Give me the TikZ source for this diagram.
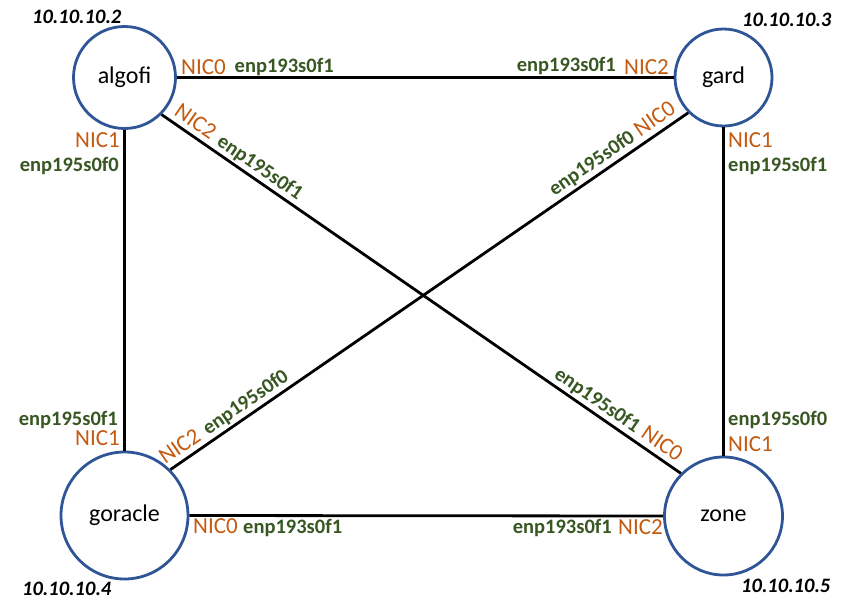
\documentclass[tikz,border=0pt]{standalone}
\usepackage{fontspec}
\setmainfont{Carlito}
\definecolor{hostblue}{HTML}{2F5597}
\definecolor{nicorange}{HTML}{C55A11}
\definecolor{ifgreen}{HTML}{385723}
\tikzset{
  host/.style={circle, draw=hostblue, line width=2.8pt, fill=white, inner sep=0pt,
               font=\fontsize{24}{28}\selectfont},
  link/.style={line width=2.8pt, draw=black},
  nic/.style={text=nicorange, inner sep=0pt, font=\fontsize{23}{27}\selectfont},
  ifname/.style={text=ifgreen, inner sep=0pt, font=\bfseries\fontsize{20.5}{24}\selectfont},
  ipaddr/.style={text=black, inner sep=0pt, font=\bfseries\itshape\fontsize{20.5}{24}\selectfont}
}
\begin{document}
\begin{tikzpicture}[x=1pt,y=-1pt]
\useasboundingbox[fill=white] (0,0) rectangle (850,605);

% hosts
\node[host, minimum size=102pt] (algofi)  at (124.5,77.5) {algofi};
\node[host, minimum size=97pt]  (gard)    at (723.5,77.5) {gard};
\node[host, minimum size=127pt] (goracle) at (124.5,515.5) {goracle};
\node[host, minimum size=118pt] (zone)    at (723.5,516)  {zone};

% links
\draw[link] (algofi.east) -- (gard.west);
\draw[link] (goracle.east) -- (zone.west);
\draw[link] (algofi.south) -- (goracle.north);
\draw[link] (gard.south) -- (zone.north);
\draw[link] (algofi.south east) -- (zone.north west);
\draw[link] (gard.south west) -- (goracle.north east);

% addresses
\node[ipaddr, anchor=base west] (ip2) at (32,23.3)  {10.10.10.2};
\node[ipaddr, anchor=base west] (ip3) at (742,26)   {10.10.10.3};
\node[ipaddr, anchor=base west] (ip4) at (22,595.7) {10.10.10.4};
\node[ipaddr, anchor=base west] (ip5) at (741,592.3){10.10.10.5};

% algofi -- gard
\node[nic, anchor=base west]    (a0) at (181,74)    {NIC0};
\node[ifname, anchor=base west] (a0i) at (234.5,72.7) {enp193s0f1};
\node[ifname, anchor=base east] (g2i) at (616,71.7) {enp193s0f1};
\node[nic, anchor=base east]    (g2) at (669,74)    {NIC2};

% algofi -- goracle
\node[nic, anchor=base east]    (a1) at (120,147)   {NIC1};
\node[ifname, anchor=base east] (a1i) at (119,171)  {enp195s0f0};
\node[ifname, anchor=base east] (o1i) at (118,425)  {enp195s0f1};
\node[nic, anchor=base east]    (o1) at (120,445)   {NIC1};

% gard -- zone
\node[nic, anchor=base west]    (g1) at (728,147)   {NIC1};
\node[ifname, anchor=base west] (g1i) at (728,171)  {enp195s0f1};
\node[ifname, anchor=base west] (z1i) at (728,425)  {enp195s0f0};
\node[nic, anchor=base west]    (z1) at (728,451.7) {NIC1};

% goracle -- zone
\node[nic, anchor=base west]    (o0) at (193,533)   {NIC0};
\node[ifname, anchor=base west] (o0i) at (243,533)  {enp193s0f1};
\node[ifname, anchor=base east] (z2i) at (612,533)  {enp193s0f1};
\node[nic, anchor=base east]    (z2) at (663,534)   {NIC2};

% algofi -- zone (diagonal)
\node[nic, anchor=base west, rotate=-34.6]    (a2)  at (173.0,114.7) {NIC2};
\node[ifname, anchor=base west, rotate=-34.6] (a2i) at (215.8,144.2) {enp195s0f1};
\node[ifname, anchor=base east, rotate=-34.6] (z0i) at (634.7,433.3) {enp195s0f1};
\node[nic, anchor=base east, rotate=-34.6]    (z0)  at (676.7,462.3) {NIC0};

% goracle -- gard (diagonal)
\node[nic, anchor=base west, rotate=34.6]    (o2)  at (165.3,464.9) {NIC2};
\node[ifname, anchor=base west, rotate=34.6] (o2i) at (208.1,435.4) {enp195s0f0};
\node[ifname, anchor=base east, rotate=34.6] (g0i) at (636.1,140.0) {enp195s0f0};
\node[nic, anchor=base east, rotate=34.6]    (g0)  at (677.2,111.6) {NIC0};
\end{tikzpicture}
\end{document}
